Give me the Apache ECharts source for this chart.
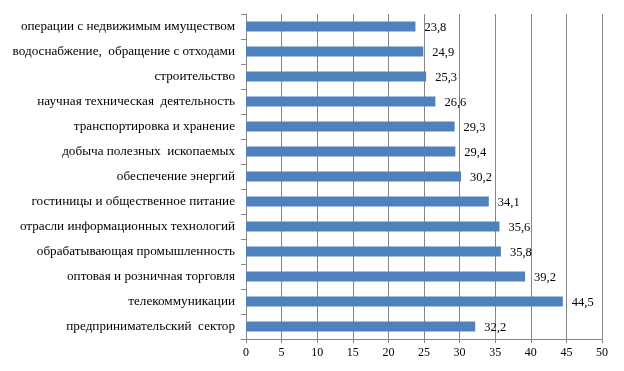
<!DOCTYPE html>
<html><head><meta charset="utf-8">
<script src="https://cdn.jsdelivr.net/npm/echarts@6/dist/echarts.min.js"></script>
<style>html,body{margin:0;padding:0;background:#fff}#c{width:624px;height:371px}</style>
</head><body><div id="c"></div>
<script>
const categories = [
  "операции с недвижимым имуществом",
  "водоснабжение,  обращение с отходами",
  "строительство",
  "научная техническая  деятельность",
  "транспортировка и хранение",
  "добыча полезных  ископаемых",
  "обеспечение энергий",
  "гостиницы и общественное питание",
  "отрасли информационных технологий",
  "обрабатывающая промышленность",
  "оптовая и розничная торговля",
  "телекоммуникации",
  "предпринимательский  сектор"
];
const values = [23.8, 24.9, 25.3, 26.6, 29.3, 29.4, 30.2, 34.1, 35.6, 35.8, 39.2, 44.5, 32.2];
const xTicks = [0, 5, 10, 15, 20, 25, 30, 35, 40, 45, 50];

const chart = echarts.init(document.getElementById('c'));
const font = '"Liberation Serif","Times New Roman",serif';
chart.setOption({
  animation: false,
  grid: {left: 246, right: 22, top: 14, bottom: 32, containLabel: false},
  xAxis: {
    type: 'value', min: xTicks[0], max: xTicks[xTicks.length-1], interval: 5,
    axisLine: {show: true, lineStyle: {color: '#868686'}},
    axisTick: {show: true, length: 4, lineStyle: {color: '#868686'}},
    splitLine: {show: true, lineStyle: {color: '#868686', width: 1}},
    axisLabel: {color: '#000', fontFamily: font, fontSize: 12, margin: 8}
  },
  yAxis: {
    type: 'category', data: categories, inverse: true,
    axisLine: {show: true, lineStyle: {color: '#868686'}},
    axisTick: {show: true, length: 5, lineStyle: {color: '#868686'}},
    axisLabel: {color: '#000', fontFamily: font, fontSize: 13.2, margin: 11}
  },
  series: [{
    type: 'bar', data: values, barWidth: 10,
    itemStyle: {color: '#4F81BD'},
    label: {
      show: true, position: 'right', distance: 9, offset: [0, 1],
      color: '#000', fontFamily: font, fontSize: 12.5,
      formatter: p => String(p.value).replace('.', ',')
    }
  }]
});
</script></body></html>
